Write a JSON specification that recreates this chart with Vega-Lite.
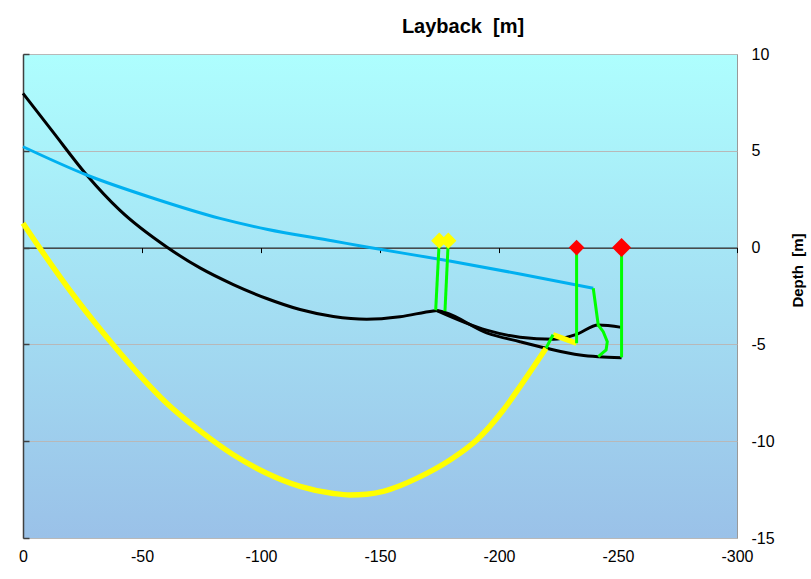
{
  "$schema": "https://vega.github.io/schema/vega-lite/v6.json",
  "width": 714,
  "height": 484,
  "autosize": {"type": "none"},
  "padding": {"left": 23, "top": 54, "right": 74, "bottom": 41},
  "background": "white",
  "view": {
    "fill": {"gradient": "linear", "x1": 0, "y1": 0, "x2": 0, "y2": 1, "stops": [{"offset": 0, "color": "#AEFEFE"}, {"offset": 1, "color": "#9AC1E8"}]},
    "stroke": "#999999",
    "strokeWidth": 1
  },
  "config": {
    "font": "Liberation Sans",
    "axis": {"labelFont": "Liberation Sans", "titleFont": "Liberation Sans"}
  },
  "title": {
    "text": "Layback \u00a0[m]",
    "font": "Liberation Sans",
    "fontSize": 20,
    "fontWeight": "bold",
    "color": "black",
    "anchor": "middle",
    "dx": 83,
    "offset": 9
  },
  "datasets": {
    "lines": [
      {"s": "k1", "c": "black", "o": 0, "x": 0, "y": 7.97},
      {"s": "k1", "c": "black", "o": 1, "x": -12.73, "y": 5.95},
      {"s": "k1", "c": "black", "o": 2, "x": -26.76, "y": 3.75},
      {"s": "k1", "c": "black", "o": 3, "x": -40.76, "y": 1.92},
      {"s": "k1", "c": "black", "o": 4, "x": -60.38, "y": 0.03},
      {"s": "k1", "c": "black", "o": 5, "x": -74.37, "y": -1.05},
      {"s": "k1", "c": "black", "o": 6, "x": -88.36, "y": -1.91},
      {"s": "k1", "c": "black", "o": 7, "x": -102.39, "y": -2.63},
      {"s": "k1", "c": "black", "o": 8, "x": -116.39, "y": -3.2},
      {"s": "k1", "c": "black", "o": 9, "x": -130.38, "y": -3.56},
      {"s": "k1", "c": "black", "o": 10, "x": -144.41, "y": -3.7},
      {"s": "k1", "c": "black", "o": 11, "x": -158.4, "y": -3.57},
      {"s": "k1", "c": "black", "o": 12, "x": -172.4, "y": -3.27},
      {"s": "k1", "c": "black", "o": 13, "x": -173.9, "y": -3.25},
      {"s": "k2", "c": "black", "o": 0, "x": -173.9, "y": -3.25},
      {"s": "k2", "c": "black", "o": 1, "x": -194.8, "y": -4.26},
      {"s": "k2", "c": "black", "o": 2, "x": -208.8, "y": -4.63},
      {"s": "k2", "c": "black", "o": 3, "x": -222.8, "y": -4.74},
      {"s": "k2", "c": "black", "o": 4, "x": -232.6, "y": -4.48},
      {"s": "k2", "c": "black", "o": 5, "x": -241.7, "y": -4.0},
      {"s": "k2", "c": "black", "o": 6, "x": -251.5, "y": -4.12},
      {"s": "k3", "c": "black", "o": 0, "x": -173.9, "y": -3.25},
      {"s": "k3", "c": "black", "o": 1, "x": -177.3, "y": -3.35},
      {"s": "k3", "c": "black", "o": 2, "x": -194.8, "y": -4.4},
      {"s": "k3", "c": "black", "o": 3, "x": -208.8, "y": -4.86},
      {"s": "k3", "c": "black", "o": 4, "x": -220.0, "y": -5.2},
      {"s": "k3", "c": "black", "o": 5, "x": -234.0, "y": -5.55},
      {"s": "k3", "c": "black", "o": 6, "x": -241.7, "y": -5.64},
      {"s": "k3", "c": "black", "o": 7, "x": -251.5, "y": -5.69},
      {"s": "b1", "c": "blue", "o": 0, "x": 0, "y": 5.21},
      {"s": "b1", "c": "blue", "o": 1, "x": -26.76, "y": 3.75},
      {"s": "b1", "c": "blue", "o": 2, "x": -54.75, "y": 2.55},
      {"s": "b1", "c": "blue", "o": 3, "x": -82.77, "y": 1.51},
      {"s": "b1", "c": "blue", "o": 4, "x": -102.39, "y": 0.95},
      {"s": "b1", "c": "blue", "o": 5, "x": -130.38, "y": 0.34},
      {"s": "b1", "c": "blue", "o": 6, "x": -144.41, "y": 0.03},
      {"s": "b1", "c": "blue", "o": 7, "x": -178.7, "y": -0.68},
      {"s": "b1", "c": "blue", "o": 8, "x": -208.8, "y": -1.36},
      {"s": "b1", "c": "blue", "o": 9, "x": -239.6, "y": -2.1},
      {"s": "y1", "c": "yellow", "o": 0, "x": 0, "y": 1.26},
      {"s": "y1", "c": "yellow", "o": 1, "x": -7.14, "y": -0.04},
      {"s": "y1", "c": "yellow", "o": 2, "x": -22.56, "y": -2.68},
      {"s": "y1", "c": "yellow", "o": 3, "x": -37.94, "y": -5.03},
      {"s": "y1", "c": "yellow", "o": 4, "x": -49.16, "y": -6.61},
      {"s": "y1", "c": "yellow", "o": 5, "x": -60.38, "y": -8.04},
      {"s": "y1", "c": "yellow", "o": 6, "x": -74.37, "y": -9.47},
      {"s": "y1", "c": "yellow", "o": 7, "x": -88.36, "y": -10.7},
      {"s": "y1", "c": "yellow", "o": 8, "x": -102.39, "y": -11.65},
      {"s": "y1", "c": "yellow", "o": 9, "x": -116.39, "y": -12.33},
      {"s": "y1", "c": "yellow", "o": 10, "x": -130.38, "y": -12.7},
      {"s": "y1", "c": "yellow", "o": 11, "x": -137.39, "y": -12.78},
      {"s": "y1", "c": "yellow", "o": 12, "x": -144.41, "y": -12.74},
      {"s": "y1", "c": "yellow", "o": 13, "x": -151.39, "y": -12.59},
      {"s": "y1", "c": "yellow", "o": 14, "x": -158.4, "y": -12.3},
      {"s": "y1", "c": "yellow", "o": 15, "x": -165.42, "y": -11.92},
      {"s": "y1", "c": "yellow", "o": 16, "x": -179.41, "y": -10.97},
      {"s": "y1", "c": "yellow", "o": 17, "x": -190.63, "y": -9.94},
      {"s": "y1", "c": "yellow", "o": 18, "x": -201.81, "y": -8.39},
      {"s": "y1", "c": "yellow", "o": 19, "x": -208.82, "y": -7.18},
      {"s": "y1", "c": "yellow", "o": 20, "x": -219.75, "y": -5.2},
      {"s": "y2", "c": "yellow", "o": 0, "x": -222.7, "y": -4.5},
      {"s": "y2", "c": "yellow", "o": 1, "x": -232.6, "y": -4.94},
      {"s": "g1", "c": "green", "o": 0, "x": -174.9, "y": 0.36},
      {"s": "g1", "c": "green", "o": 1, "x": -173.4, "y": -3.23},
      {"s": "g2", "c": "green", "o": 0, "x": -178.7, "y": 0.36},
      {"s": "g2", "c": "green", "o": 1, "x": -177.3, "y": -3.28},
      {"s": "g3", "c": "green", "o": 0, "x": -232.6, "y": 0},
      {"s": "g3", "c": "green", "o": 1, "x": -232.6, "y": -4.94},
      {"s": "g4", "c": "green", "o": 0, "x": -251.5, "y": 0},
      {"s": "g4", "c": "green", "o": 1, "x": -251.5, "y": -5.67},
      {"s": "g5", "c": "green", "o": 0, "x": -239.6, "y": -2.1},
      {"s": "g5", "c": "green", "o": 1, "x": -241.7, "y": -4.0},
      {"s": "g5", "c": "green", "o": 2, "x": -243.8, "y": -4.34},
      {"s": "g5", "c": "green", "o": 3, "x": -245.5, "y": -4.86},
      {"s": "g5", "c": "green", "o": 4, "x": -245.0, "y": -5.29},
      {"s": "g5", "c": "green", "o": 5, "x": -241.7, "y": -5.63},
      {"s": "g6", "c": "green", "o": 0, "x": -219.75, "y": -5.2},
      {"s": "g6", "c": "green", "o": 1, "x": -222.7, "y": -4.5}
    ],
    "points": [
      {"c": "yellow", "x": -174.9, "y": 0.36, "sz": 110},
      {"c": "yellow", "x": -178.7, "y": 0.36, "sz": 110},
      {"c": "red", "x": -232.6, "y": 0, "sz": 100},
      {"c": "red", "x": -251.5, "y": 0, "sz": 150}
    ]
  },
  "layer": [
    {
      "data": {"name": "lines"},
      "transform": [{"filter": "datum.c === 'black'"}],
      "mark": {"type": "line", "color": "black", "strokeWidth": 3, "interpolate": "monotone"},
      "encoding": {
        "x": {"field": "x", "type": "quantitative",
          "scale": {"domain": [0, -300], "nice": false, "zero": false},
          "axis": {"orient": "bottom", "offset": -290.4, "values": [0, -50, -100, -150, -200, -250, -300],
            "labelExpr": "'' + datum.value",
            "domainColor": "black", "domainWidth": 1, "tickColor": "black", "tickSize": 5, "tickWidth": 1,
            "labelPadding": 296, "labelFontSize": 16, "labelColor": "black", "labelFlush": false, "labelOverlap": false,
            "grid": false, "title": null}},
        "y": {"field": "y", "type": "quantitative",
          "scale": {"domain": [-15, 10], "nice": false, "zero": false},
          "axis": {"orient": "right", "offset": -714, "values": [10, 5, 0, -5, -10, -15],
            "labelExpr": "'' + datum.value",
            "domainColor": "#404040", "domainWidth": 1.5, "tickColor": "#404040", "tickSize": 6, "tickWidth": 1.5,
            "labelPadding": 722, "labelFontSize": 16, "labelColor": "black", "labelFlush": false, "labelOverlap": false, "labelAlign": "left",
            "grid": true, "gridColor": "#B8B8B8", "gridWidth": 1,
            "title": "Depth \u00a0[m]", "titleFontSize": 15, "titleFontWeight": "bold", "titleColor": "black",
            "titleAngle": 270, "titleX": 774, "titleY": 216, "titleAlign": "center", "titleBaseline": "middle"}},
        "detail": {"field": "s"},
        "order": {"field": "o", "type": "quantitative"}
      }
    },
    {
      "data": {"name": "lines"},
      "transform": [{"filter": "datum.c === 'blue'"}],
      "mark": {"type": "line", "color": "#00B0F0", "strokeWidth": 3, "interpolate": "monotone"},
      "encoding": {
        "x": {"field": "x", "type": "quantitative"},
        "y": {"field": "y", "type": "quantitative"},
        "detail": {"field": "s"},
        "order": {"field": "o", "type": "quantitative"}
      }
    },
    {
      "data": {"name": "lines"},
      "transform": [{"filter": "datum.c === 'yellow'"}],
      "mark": {"type": "line", "color": "#FFFF00", "strokeWidth": 5.5, "interpolate": "monotone"},
      "encoding": {
        "x": {"field": "x", "type": "quantitative"},
        "y": {"field": "y", "type": "quantitative"},
        "detail": {"field": "s"},
        "order": {"field": "o", "type": "quantitative"}
      }
    },
    {
      "data": {"name": "lines"},
      "transform": [{"filter": "datum.c === 'green'"}],
      "mark": {"type": "line", "color": "#00FF00", "strokeWidth": 3, "interpolate": "linear"},
      "encoding": {
        "x": {"field": "x", "type": "quantitative"},
        "y": {"field": "y", "type": "quantitative"},
        "detail": {"field": "s"},
        "order": {"field": "o", "type": "quantitative"}
      }
    },
    {
      "data": {"name": "points"},
      "mark": {"type": "point", "shape": "diamond", "filled": true, "opacity": 1},
      "encoding": {
        "x": {"field": "x", "type": "quantitative"},
        "y": {"field": "y", "type": "quantitative"},
        "color": {"field": "c", "type": "nominal", "scale": {"domain": ["yellow", "red"], "range": ["#FFFF00", "#FF0000"]}, "legend": null},
        "size": {"field": "sz", "type": "quantitative", "scale": {"type": "identity"}, "legend": null}
      }
    }
  ]
}
